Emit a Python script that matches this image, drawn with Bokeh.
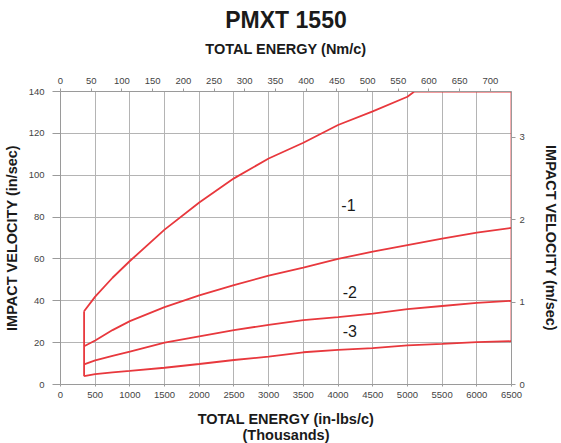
from bokeh.plotting import figure
from bokeh.models import LinearAxis, Range1d, FixedTicker, ColumnDataSource
from bokeh.core.properties import value
from bokeh.embed import file_html
from bokeh.resources import INLINE

# ---- data ----
energy_ticks = [0, 500, 1000, 1500, 2000, 2500, 3000, 3500, 4000, 4500, 5000, 5500, 6000, 6500]
nm_ticks = [0, 50, 100, 150, 200, 250, 300, 350, 400, 450, 500, 550, 600, 650, 700]
vel_ticks = [0, 20, 40, 60, 80, 100, 120, 140]
ms_ticks = [0, 1, 2, 3]

curve1_x = [340, 500, 750, 1000, 1500, 2000, 2500, 3000, 3500, 4000, 4500, 5000, 5100, 6500]
curve1_y = [35, 42, 51, 59, 74, 87, 98.5, 108, 115.5, 124, 130.5, 137.5, 140, 140]

curve_x = [340, 500, 750, 1000, 1500, 2000, 2500, 3000, 3500, 4000, 4500, 5000, 5500, 6000, 6500]
curve2_y = [18.3, 21, 26, 30.3, 37, 42.6, 47.5, 52, 55.8, 60, 63.5, 66.6, 69.7, 72.6, 74.8]
curve3_y = [9.6, 11.5, 13.7, 15.7, 20, 23, 26, 28.5, 30.8, 32.2, 33.9, 36, 37.5, 39, 40]
curve4_y = [4, 5, 5.8, 6.5, 8, 9.8, 11.7, 13.3, 15.4, 16.5, 17.4, 18.7, 19.4, 20.2, 20.7]

label_text = ["-1", "-2", "-3"]
label_x = [4150, 4170, 4170]
label_y = [86, 44, 25.7]

IN_LBS_TO_NM = 0.112985
IN_TO_M = 0.0254

RED = "#e8383d"
GRID = "#b4b4b4"
AXIS = "#9a9a9a"
TICKTXT = "#444444"
FONT = "Liberation Sans"

p = figure(frame_width=451, frame_height=293,
           x_range=Range1d(0, 6500), y_range=Range1d(0, 140),
           output_backend="svg", toolbar_location=None,
           min_border_left=53, min_border_right=49,
           min_border_top=84, min_border_bottom=58)
p.extra_x_ranges = {"nm": Range1d(0, 6500 * IN_LBS_TO_NM)}
p.extra_y_ranges = {"ms": Range1d(0, 140 * IN_TO_M)}
p.outline_line_color = None
p.background_fill_color = "white"
p.border_fill_color = "white"

# title
p.title.text = "PMXT 1550"
p.title.align = "center"
p.title.text_font = FONT
p.title.text_font_size = "23px"
p.title.text_font_style = "bold"
p.title.text_color = "#1a1a1a"
p.title.standoff = 9

def style_axis(ax, ticks, label, tick_out):
    ax.ticker = FixedTicker(ticks=ticks)
    ax.axis_label = label
    ax.axis_label_text_font = FONT
    ax.axis_label_text_font_size = "14.5px"
    ax.axis_label_text_font_style = "bold"
    ax.axis_label_text_color = "#1a1a1a"
    ax.major_label_text_font = FONT
    ax.major_label_text_font_size = "9.5px"
    ax.major_label_text_color = TICKTXT
    ax.axis_line_color = AXIS
    ax.major_tick_line_color = AXIS
    ax.major_tick_out = tick_out
    ax.major_tick_in = 0
    ax.minor_tick_line_color = None

# bottom axis
bx = p.xaxis[0]
style_axis(bx, energy_ticks, "TOTAL ENERGY (in-lbs/c)\n(Thousands)", 2)
bx.major_label_standoff = 5
bx.axis_label_standoff = 10
bx.axis_label_text_line_height = 1.05

# left axis
ly = p.yaxis[0]
style_axis(ly, vel_ticks, "IMPACT VELOCITY (in/sec)", 8)
ly.major_label_standoff = 8
ly.axis_label_standoff = 6

# top axis
tx = LinearAxis(x_range_name="nm")
style_axis(tx, nm_ticks, "TOTAL ENERGY (Nm/c)", 3)
tx.major_label_standoff = 5
tx.axis_label_standoff = 18
p.add_layout(tx, "above")

# right axis
ry = LinearAxis(y_range_name="ms")
style_axis(ry, ms_ticks, "IMPACT VELOCITY (m/sec)", 4)
ry.major_label_standoff = 4
ry.axis_label_standoff = 15
p.add_layout(ry, "right")

# grid
p.xgrid.ticker = FixedTicker(ticks=energy_ticks)
p.ygrid.ticker = FixedTicker(ticks=vel_ticks)
p.xgrid.grid_line_color = GRID
p.ygrid.grid_line_color = GRID
p.xgrid.grid_line_width = 1
p.ygrid.grid_line_width = 1

# curves
p.line(curve1_x, curve1_y, line_color=RED, line_width=1.8)
p.line(curve_x, curve2_y, line_color=RED, line_width=1.8)
p.line(curve_x, curve3_y, line_color=RED, line_width=1.8)
p.line(curve_x, curve4_y, line_color=RED, line_width=1.8)
# envelope edges
p.line([curve_x[0], curve_x[0]], [curve4_y[0], curve1_y[0]], line_color=RED, line_width=1.8)
p.line([curve_x[-1], curve_x[-1]], [curve4_y[-1], curve1_y[-1]], line_color=RED, line_width=1.8)

src = ColumnDataSource(dict(x=label_x, y=label_y, t=label_text))
p.text(x="x", y="y", text="t", source=src, text_font=value(FONT),
       text_font_size="16px", text_align="center", text_baseline="middle",
       text_color="#1a1a1a")

open("out.html", "w").write(file_html(p, INLINE))
